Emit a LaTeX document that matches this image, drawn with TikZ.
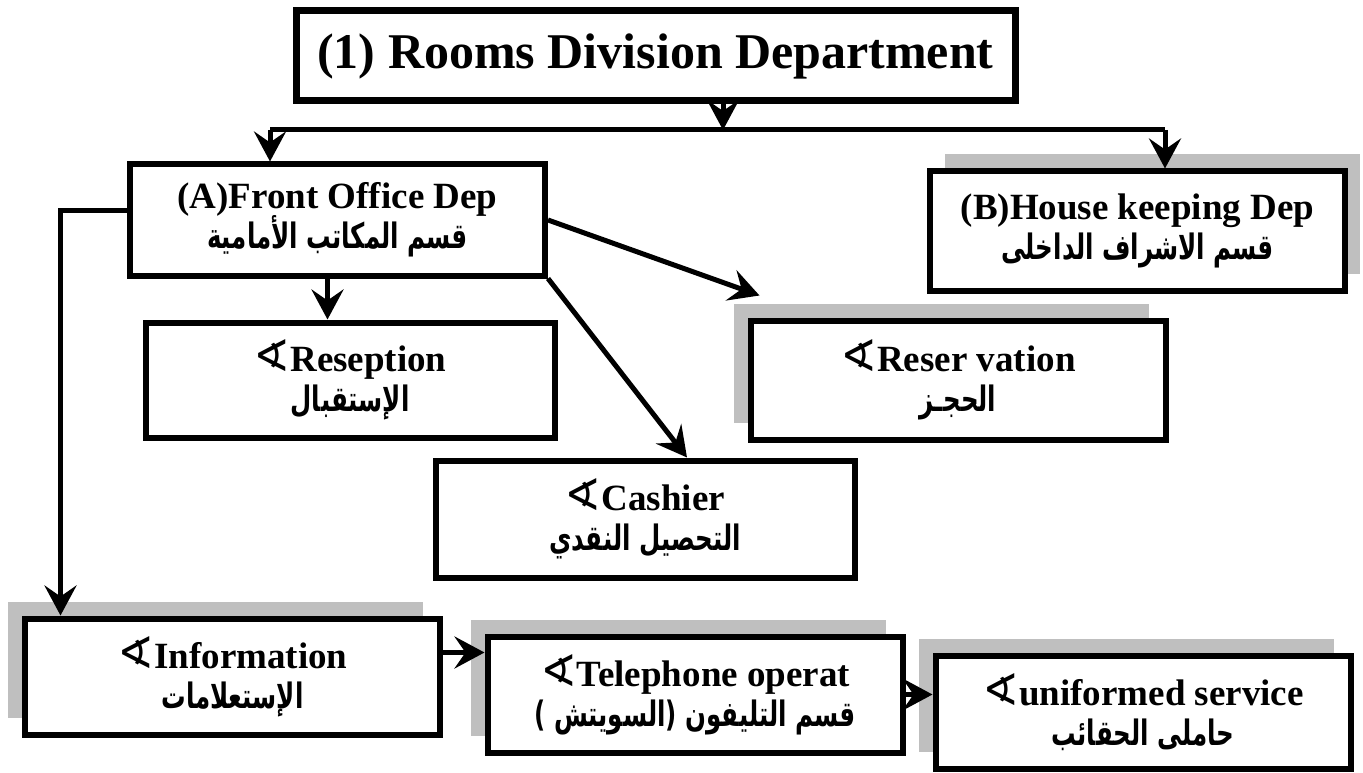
\documentclass[tikz,border=0pt]{standalone}
\usepackage{fontspec}
\setmainfont{Liberation Serif}
\newfontfamily\arabicfont[Script=Arabic, FakeStretch=0.7]{DejaVu Sans}
\newfontfamily\bulletfont{DejaVu Sans}
\TeXXeTstate=1
\usetikzlibrary{arrows.meta}
\usetikzlibrary{shadows}
\newcommand{\arline}[1]{{\arabicfont\bfseries\fontsize{35}{40}\selectfont\beginR #1\endR}}
\newcommand{\bul}{{\bulletfont\mdseries\fontsize{44}{40}\selectfont ∢}}
\newcommand{\boxfont}{\bfseries\fontsize{37}{40}\selectfont\lineskiplimit=-200pt\relax}
\tikzset{
 box/.style={draw, line width=6pt, fill=white, align=center,
   font=\boxfont, minimum width=415pt, minimum height=116pt},
 shadowbox/.style={box, general shadow={fill=black!25, shadow xshift=-17pt, shadow yshift=17pt}},
 arr/.style={line width=5pt, -{Stealth[length=30pt, width=32pt, inset=11pt]}},
 bus/.style={line width=5pt},
}
\begin{document}
\begin{tikzpicture}[x=1pt,y=-1pt]
\useasboundingbox (0,0) rectangle (1363,773);
\node[draw, line width=7pt, fill=white, minimum width=719pt, minimum height=90pt,
  font=\bfseries\fontsize{50}{50}\selectfont] (title) at (655.5,56) {(1) Rooms Division Department};
\node[box, minimum height=111pt] (front) at (337.5,220) {(A)Front Office Dep\\ \arline{قسم المكاتب الأمامية}};
\node[box, minimum height=119pt, general shadow={fill=black!25, shadow xshift=15pt, shadow yshift=17pt}]
  (house) at (1137.5,231) {(B)House keeping Dep\\ \arline{قسم الاشراف الداخلى}};
\node[box, minimum width=409pt, minimum height=115pt] (recep) at (350,380) {\bul Reseption\\ \arline{الإستقبال}};
\node[shadowbox, minimum height=119pt] (resv) at (958,380) {\bul Reser vation\\ \arline{الحجـز}};
\node[box, minimum width=419pt, minimum height=117pt] (cash) at (645,519) {\bul Cashier\\ \arline{التحصيل النقدي}};
\node[shadowbox] (info) at (232.5,676.5) {\bul Information\\ \arline{الإستعلامات}};
\node[shadowbox] (tele) at (695,694.5) {\bul Telephone operat\\ \arline{قسم التليفون (السويتش )}};
\node[shadowbox, minimum height=113pt] (unif) at (1143,712) {\bul uniformed service\\ \arline{حاملى الحقائب}};

\coordinate (busL) at (270,130);
\coordinate (busM) at (723,130);
\coordinate (busR) at (1165,130);
\draw[bus] (busL) -- (busR);
\draw[arr] (title.south -| busM) -- (busM);
\draw[arr] (busL) -- (busL |- front.north);
\draw[arr] (busR) -- (busR |- house.north);
\draw[arr] ([xshift=-10pt]front.south) -- ([xshift=-10pt]front.south |- recep.north);
\draw[arr] (front.east) -- ([shift={(12pt,22pt)}]resv.north west);
\draw[arr] (front.south east) -- ([xshift=42pt]cash.north);
\draw[arr] ([yshift=10pt]front.west) -| ([xshift=-172pt]info.north);
\draw[arr] ([yshift=24pt]info.east) -- ([yshift=24pt]info.east -| tele.west);
\draw[arr] (tele.east) -- (tele.east -| unif.west);
\end{tikzpicture}
\end{document}
